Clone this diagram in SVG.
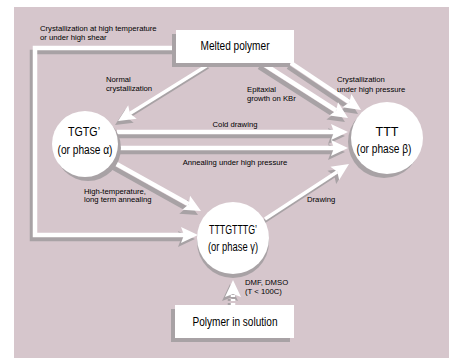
<svg xmlns="http://www.w3.org/2000/svg" width="449" height="358" viewBox="0 0 449 358">
<defs>
<style>
text{font-family:"Liberation Sans",Arial,sans-serif;fill:#000}
.lbl{font-size:7.7px}
.big{font-size:12px;text-anchor:middle}
.node{fill:#fff}
.sh{fill:#a8a2a5}
.ln{fill:none;stroke:#fff;stroke-width:4.5}
.lns{fill:none;stroke:#a8a2a5;stroke-width:4.5}
.thin{stroke-width:3.5}
</style>
<marker id="ah" markerUnits="userSpaceOnUse" markerWidth="24" markerHeight="20" refX="4" refY="8" orient="auto" overflow="visible">
<path d="M18,8 L1,0 L4,8 L1,16 Z" fill="#fff"/>
</marker>
<marker id="ahs" markerUnits="userSpaceOnUse" markerWidth="24" markerHeight="20" refX="4" refY="8" orient="auto" overflow="visible">
<path d="M18,8 L1,0 L4,8 L1,16 Z" fill="#a8a2a5"/>
</marker>
</defs>
<rect x="0" y="0" width="449" height="358" fill="#fff"/>
<rect x="14" y="7" width="435" height="351" fill="#d6c6cc"/>

<g id="connectors">
<g transform="translate(-3,4)">
<path class="lns" d="M176,48 H35 V235 H184" marker-end="url(#ahs)"/>
<path class="lns thin" d="M211,63 L129.9,113.6" marker-end="url(#ahs)"/>
<path class="lns" d="M291,63 L349.4,102.2" marker-end="url(#ahs)"/>
<path class="lns" d="M262,63 L336.2,110.5" marker-end="url(#ahs)"/>
<path class="lns" d="M117,132 H334" marker-end="url(#ahs)"/>
<path class="lns" d="M117,148 H334" marker-end="url(#ahs)"/>
<path class="lns" d="M113,162 L188.8,204.2" marker-end="url(#ahs)"/>
<path class="lns thin" d="M265,219 L337.3,171.7" marker-end="url(#ahs)"/>
<path class="lns" d="M233,305 V294" stroke-dasharray="2,2" marker-end="url(#ahs)"/>
</g>
<path class="ln" d="M176,48 H35 V235 H184" marker-end="url(#ah)"/>
<path class="ln thin" d="M211,63 L129.9,113.6" marker-end="url(#ah)"/>
<path class="ln" d="M291,63 L349.4,102.2" marker-end="url(#ah)"/>
<path class="ln" d="M262,63 L336.2,110.5" marker-end="url(#ah)"/>
<path class="ln" d="M117,132 H334" marker-end="url(#ah)"/>
<path class="ln" d="M117,148 H334" marker-end="url(#ah)"/>
<path class="ln" d="M113,162 L188.8,204.2" marker-end="url(#ah)"/>
<path class="ln thin" d="M265,219 L337.3,171.7" marker-end="url(#ah)"/>
<path class="ln" d="M233,305 V294" stroke-dasharray="2,2" marker-end="url(#ah)"/>
</g>

<g id="labels">
<text class="lbl" x="40" y="30.5">Crystallization at high temperature</text>
<text class="lbl" x="40" y="39.5">or under high shear</text>
<text class="lbl" x="106" y="81.5">Normal</text>
<text class="lbl" x="106" y="90.5">crystallization</text>
<text class="lbl" x="247" y="91.5">Epitaxial</text>
<text class="lbl" x="247" y="100.5">growth on KBr</text>
<text class="lbl" x="337" y="81.5">Crystallization</text>
<text class="lbl" x="337" y="91.5">under high pressure</text>
<text class="lbl" x="235" y="126.5" text-anchor="middle">Cold drawing</text>
<text class="lbl" x="235" y="164.5" text-anchor="middle">Annealing under high pressure</text>
<text class="lbl" x="84" y="193.5">High-temperature,</text>
<text class="lbl" x="84" y="201.5">long term annealing</text>
<text class="lbl" x="307" y="201.5">Drawing</text>
<text class="lbl" x="245" y="284.5">DMF, DMSO</text>
<text class="lbl" x="245" y="293.5">(T &lt; 100C)</text>
</g>

<g id="melted">
<rect class="sh" x="172" y="34" width="118" height="33"/>
<rect class="node" x="176" y="30" width="118" height="33"/>
<text class="big" x="235" y="50" textLength="69" lengthAdjust="spacingAndGlyphs">Melted polymer</text>
</g>
<g id="alpha">
<circle class="sh" cx="88" cy="148" r="33"/>
<circle class="node" cx="85" cy="144" r="33"/>
<text class="big" x="84" y="136" textLength="32" lengthAdjust="spacingAndGlyphs">TGTG’</text>
<text class="big" x="85" y="154" textLength="55" lengthAdjust="spacingAndGlyphs">(or phase α)</text>
</g>
<g id="beta">
<circle class="sh" cx="384" cy="142" r="36"/>
<circle class="node" cx="387" cy="138" r="36"/>
<text class="big" x="387" y="136" textLength="23" lengthAdjust="spacingAndGlyphs">TTT</text>
<text class="big" x="384" y="153" textLength="55" lengthAdjust="spacingAndGlyphs">(or phase β)</text>
</g>
<g id="gamma">
<circle class="sh" cx="233" cy="242" r="36"/>
<circle class="node" cx="233" cy="238" r="36"/>
<text class="big" x="233" y="234" textLength="48" lengthAdjust="spacingAndGlyphs">TTTGTTTG’</text>
<text class="big" x="233" y="251" textLength="50" lengthAdjust="spacingAndGlyphs">(or phase γ)</text>
</g>
<g id="solution">
<rect class="sh" x="171" y="309" width="119" height="33"/>
<rect class="node" x="175" y="305" width="119" height="33"/>
<text class="big" x="235" y="326" textLength="85" lengthAdjust="spacingAndGlyphs">Polymer in solution</text>
</g>
</svg>
